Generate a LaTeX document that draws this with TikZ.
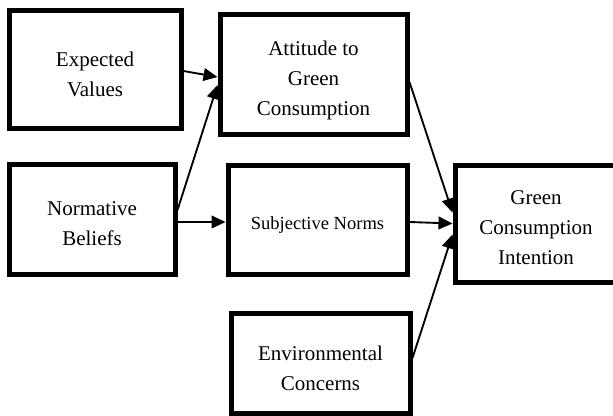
\documentclass[tikz,border=0pt]{standalone}
\usepackage{fontspec}
\setmainfont{Liberation Serif}
\usetikzlibrary{arrows.meta,calc}
\tikzset{
  box/.style={draw, line width=3.75pt, inner sep=0pt},
  txt/.style={align=center, inner sep=0pt,
    font=\fontsize{15.75}{22.5}\selectfont},
  smalltxt/.style={txt, font=\fontsize{13.9}{19}\selectfont},
  link/.style={line width=1.4pt, -{Triangle[length=10.5pt,width=9.5pt]}}
}
\begin{document}
\begin{tikzpicture}[x=0.75pt,y=-0.75pt]
\useasboundingbox (0,0) rectangle (613,416);
\node[box, minimum width=129pt, minimum height=88.5pt] (ev) at (95,70) {};
\node[box, minimum width=140.25pt, minimum height=90pt] (att) at (313.5,75) {};
\node[box, minimum width=124.5pt, minimum height=82.5pt] (nb) at (92,220) {};
\node[box, minimum width=134.25pt, minimum height=81.75pt] (sn) at (317.5,220.5) {};
\node[box, minimum width=121.5pt, minimum height=87.75pt] (gci) at (536,224.5) {};
\node[box, minimum width=134.25pt, minimum height=75pt] (ec) at (320.5,363) {};
\node[txt] (evt) at ($(ev.center)+(0,4)$) {Expected\\Values};
\node[txt] (attt) at ($(att.center)+(0,5)$) {Attitude to\\Green\\Consumption};
\node[txt] (nbt) at ($(nb.center)+(0,4)$) {Normative\\Beliefs};
\node[smalltxt] (snt) at ($(sn.center)+(0,5)$) {Subjective Norms};
\node[txt] (gcit) at ($(gci.center)+(0,3)$) {Green\\Consumption\\Intention};
\node[txt] (ect) at ($(ec.center)+(0,5)$) {Environmental\\Concerns};
\draw[link] ($(ev.east)+(0,1)$) -- ($(att.west)+(0,2)$);
\draw[link] ($(nb.east)+(0,-10)$) -- ($(att.west)+(0,10)$);
\draw[link] ($(nb.east)+(0,2)$) -- ($(sn.west)+(0,1.5)$);
\draw[link] ($(att.east)+(0,7)$) -- ($(gci.west)+(0,-12)$);
\draw[link] ($(sn.east)+(0,1.5)$) -- ($(gci.west)+(0,-1)$);
\draw[link] ($(ec.east)+(0,-5)$) -- ($(gci.west)+(0,10)$);
\end{tikzpicture}
\end{document}
